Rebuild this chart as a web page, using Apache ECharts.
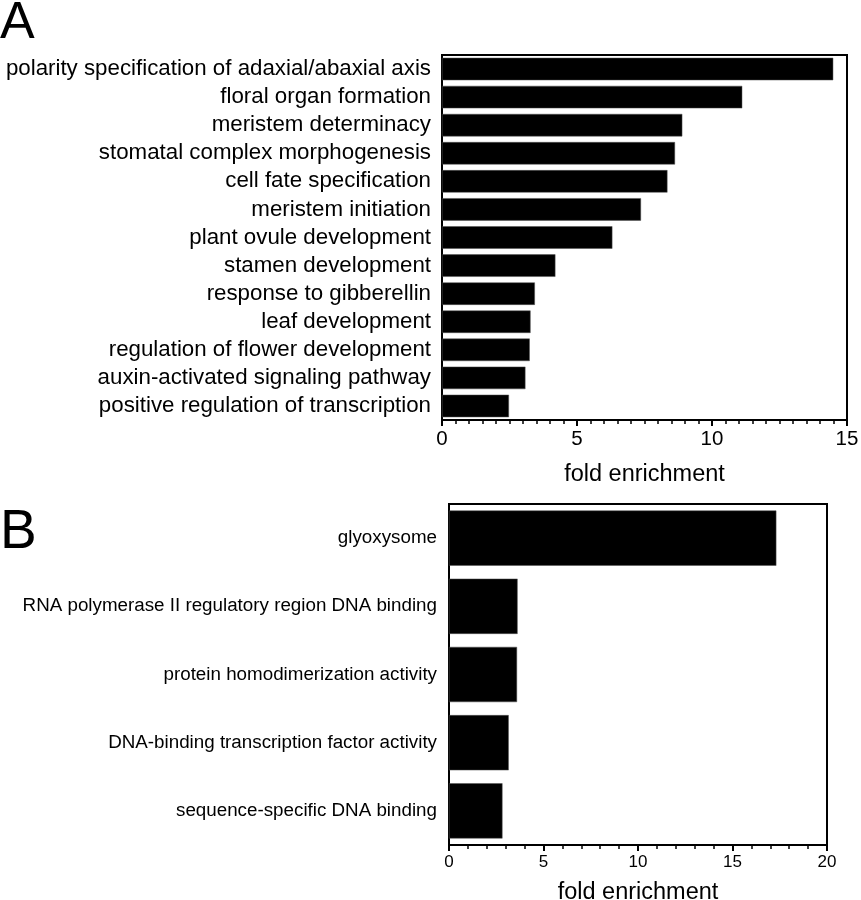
<!DOCTYPE html>
<html>
<head>
<meta charset="utf-8">
<script src="https://cdn.jsdelivr.net/npm/echarts@6/dist/echarts.min.js"></script>
<style>html,body{margin:0;padding:0;background:#fff}#c{width:861px;height:900px}</style>
</head>
<body>
<div id="c"></div>
<script>
const catsA = [
  "polarity specification of adaxial/abaxial axis",
  "floral organ formation",
  "meristem determinacy",
  "stomatal complex morphogenesis",
  "cell fate specification",
  "meristem initiation",
  "plant ovule development",
  "stamen development",
  "response to gibberellin",
  "leaf development",
  "regulation of flower development",
  "auxin-activated signaling pathway",
  "positive regulation of transcription"
];
const valsA = [14.49, 11.12, 8.90, 8.63, 8.35, 7.37, 6.31, 4.20, 3.44, 3.28, 3.25, 3.09, 2.48];
const catsB = [
  "glyoxysome",
  "RNA polymerase II regulatory region DNA binding",
  "protein homodimerization activity",
  "DNA-binding transcription factor activity",
  "sequence-specific DNA binding"
];
const valsB = [17.32, 3.63, 3.60, 3.16, 2.83];
const ticksA = {min: 0, max: 15, interval: 5};
const ticksB = {min: 0, max: 20, interval: 5};

const FONT = "Liberation Sans, Arial, sans-serif";
const chart = echarts.init(document.getElementById('c'));

function xAx(gi, t, fs, nameGap, splits, name) {
  return {
    type: 'value', gridIndex: gi, min: t.min, max: t.max, interval: t.interval,
    name: name, nameLocation: 'middle', nameGap: nameGap,
    nameTextStyle: {color: '#000', fontSize: 23.5, fontFamily: FONT},
    axisLine: {show: true, lineStyle: {color: '#000', width: 2}},
    axisTick: {show: true, length: 6, lineStyle: {color: '#000', width: 2}},
    minorTick: {show: true, splitNumber: splits, length: 4, lineStyle: {color: '#000', width: 1.5}},
    axisLabel: {color: '#000', fontSize: fs, fontFamily: FONT, margin: 9},
    splitLine: {show: false}
  };
}
function yAx(gi, cats, fs, margin) {
  return {
    type: 'category', gridIndex: gi, data: cats, inverse: true,
    axisLine: {show: true, lineStyle: {color: '#000', width: 2}},
    axisTick: {show: false},
    axisLabel: {color: '#000', fontSize: fs, fontFamily: FONT, margin: margin, interval: 0, hideOverlap: false},
    splitLine: {show: false}
  };
}

chart.setOption({
  animation: false,
  backgroundColor: '#fff',
  grid: [
    {left: 442, right: 14, top: 55, height: 365, show: true, borderColor: '#000', borderWidth: 2, containLabel: false, outerBoundsMode: 'none'},
    {left: 449, right: 34, top: 504, height: 341, show: true, borderColor: '#000', borderWidth: 2, containLabel: false, outerBoundsMode: 'none'}
  ],
  xAxis: [
    xAx(0, ticksA, 20.5, 43, 10, 'fold enrichment'),
    xAx(1, ticksB, 17, 36, 5, 'fold enrichment')
  ],
  yAxis: [
    yAx(0, catsA, 22.3, 11),
    yAx(1, catsB, 18.8, 12)
  ],
  series: [
    {type: 'bar', xAxisIndex: 0, yAxisIndex: 0, data: valsA, barWidth: '80%',
     itemStyle: {color: '#000', borderColor: '#555', borderWidth: 0.5}},
    {type: 'bar', xAxisIndex: 1, yAxisIndex: 1, data: valsB, barWidth: '81%',
     itemStyle: {color: '#000', borderColor: '#555', borderWidth: 0.5}}
  ],
  graphic: [
    {type: 'text', left: 0, top: -2, style: {text: 'A', fontSize: 52, fontFamily: FONT, fill: '#000'}},
    {type: 'text', left: 0, top: 505, style: {text: 'B', fontSize: 55, fontFamily: FONT, fill: '#000'}}
  ]
});
</script>
</body>
</html>
